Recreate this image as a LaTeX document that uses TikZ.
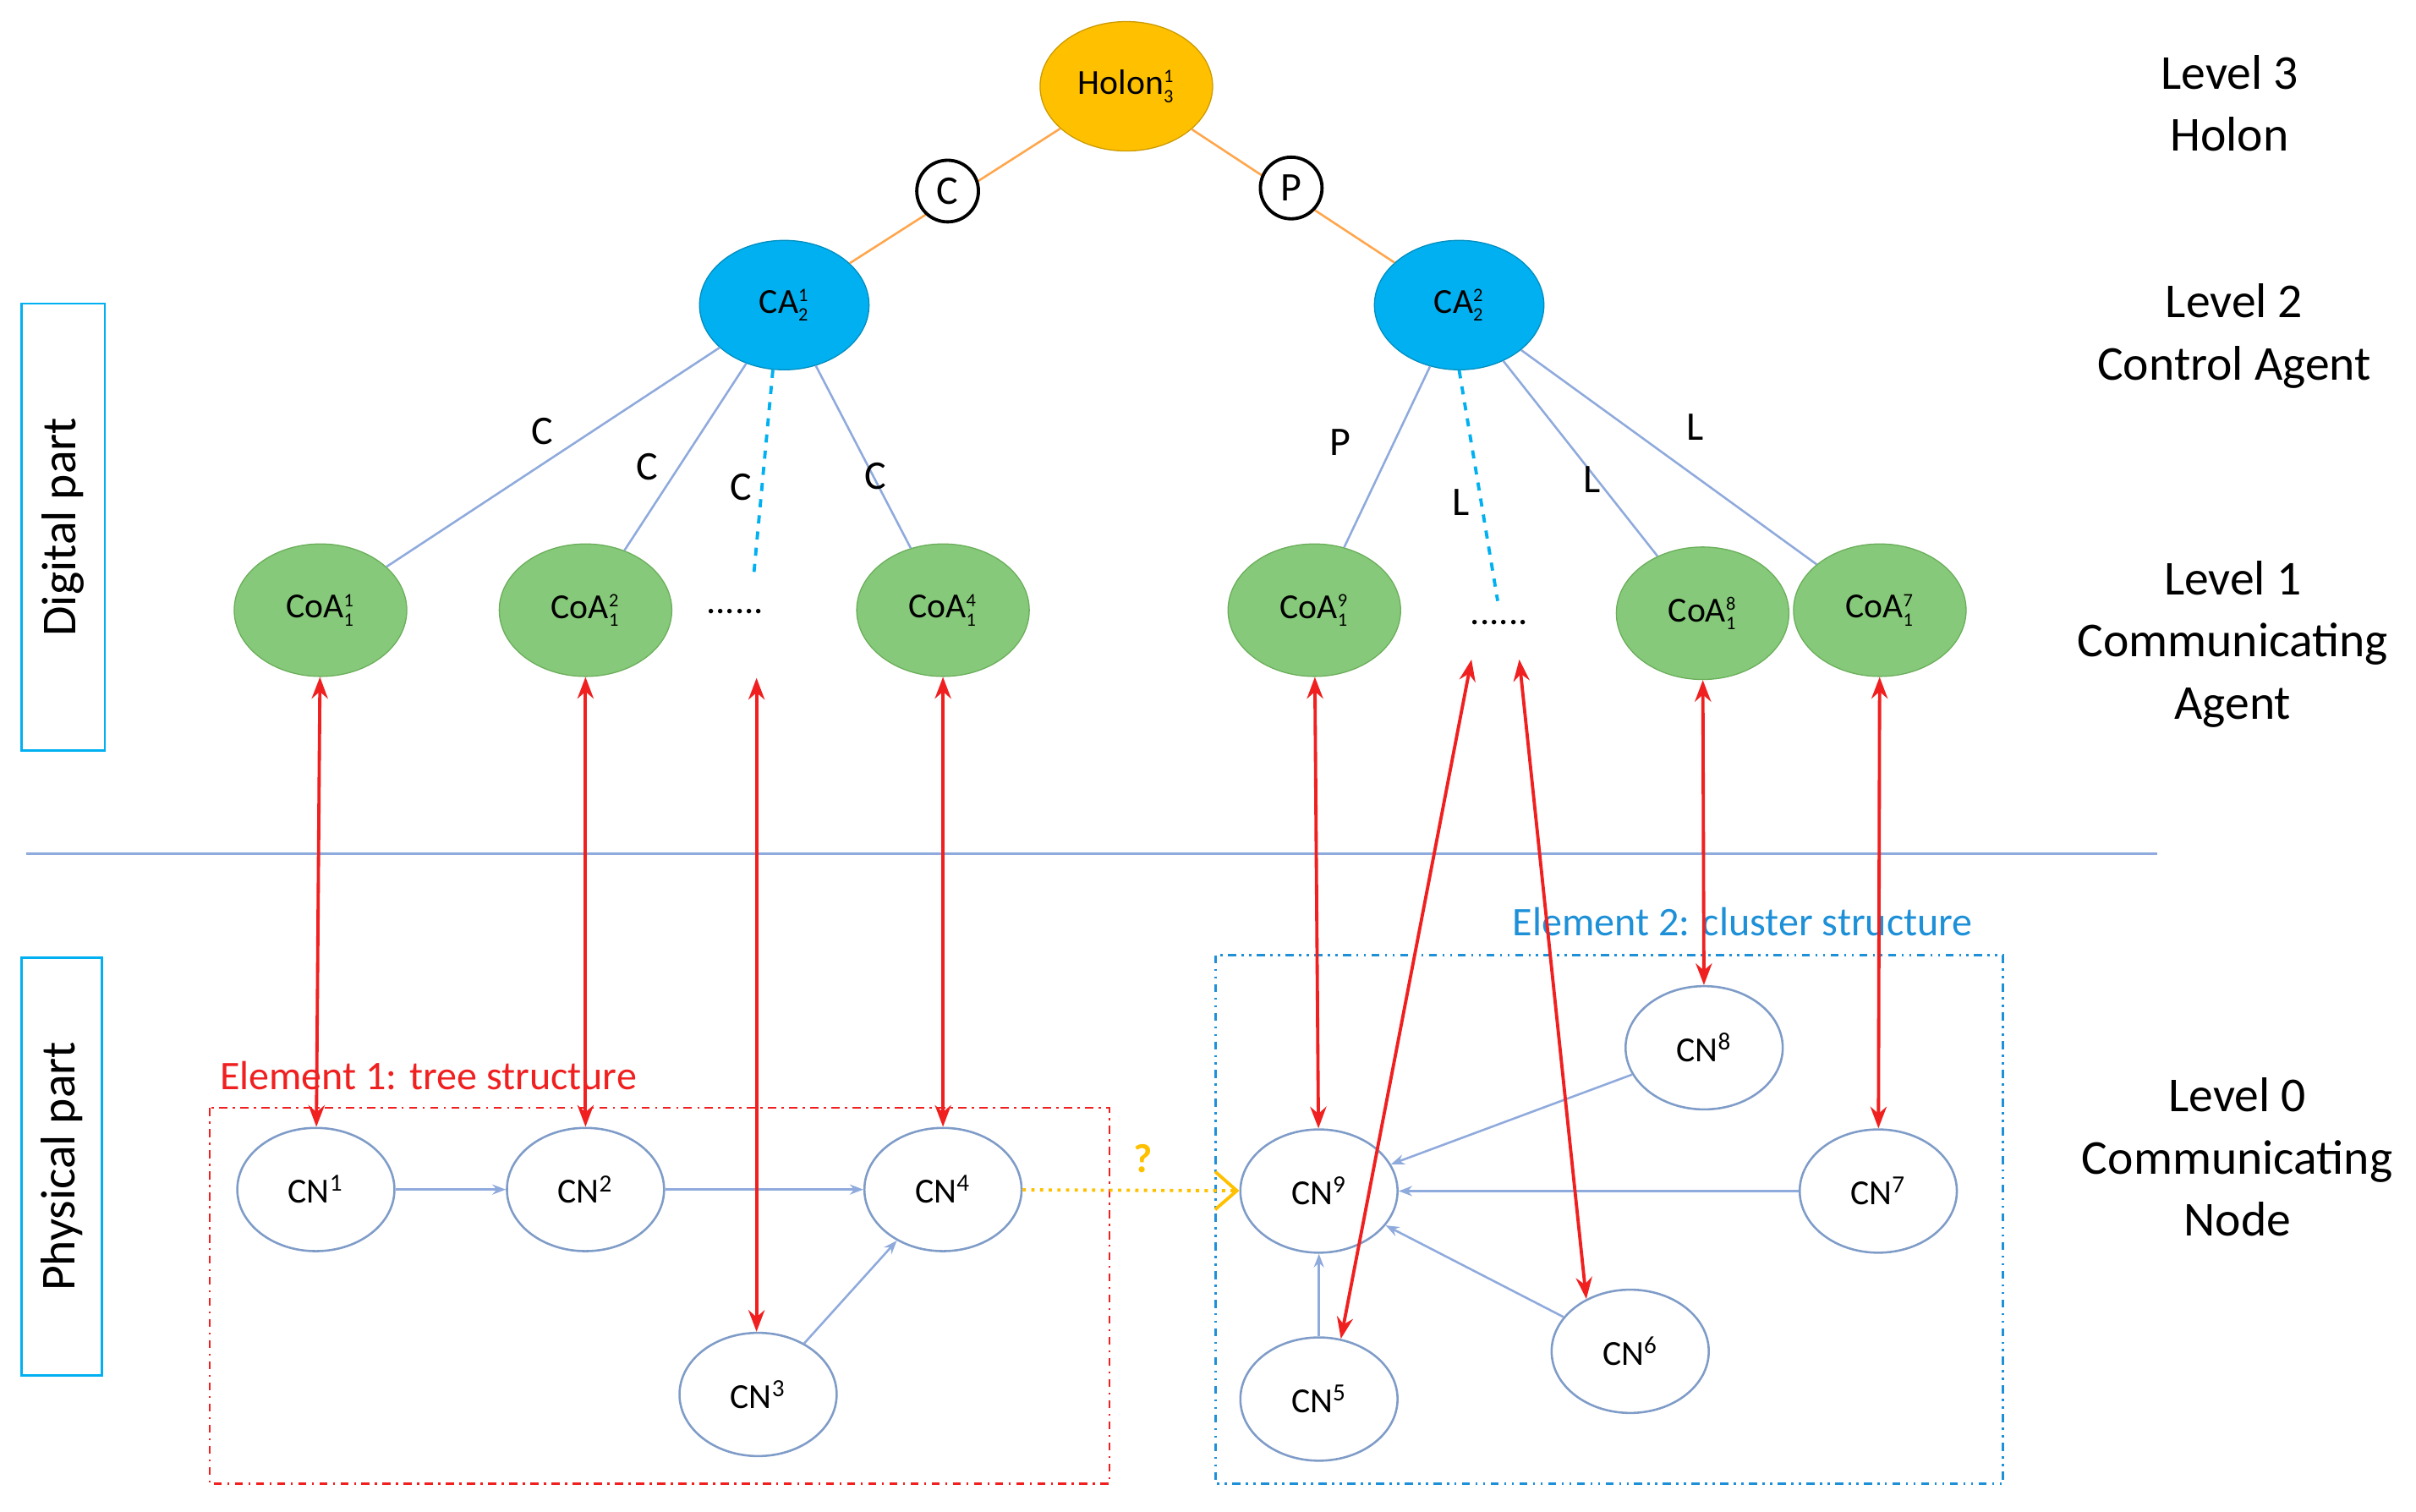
\documentclass[tikz,border=0pt]{standalone}
\usepackage{fontspec}
\setmainfont{Carlito}
\usetikzlibrary{arrows.meta,shapes.geometric}
\newcommand{\ssb}[2]{\ensuremath{^{\mbox{\scriptsize #2}}_{\mbox{\scriptsize #1}}}}
\definecolor{hol}{HTML}{FFC000}
\definecolor{cab}{HTML}{00B0F0}
\definecolor{coa}{HTML}{86C97A}
\definecolor{coab}{HTML}{6AAE5A}
\definecolor{lb}{HTML}{8FAADC}
\definecolor{cnb}{HTML}{7F9CC8}
\definecolor{rd}{HTML}{F02020}
\definecolor{bb}{HTML}{1E90D8}
\begin{document}
\begin{tikzpicture}[x=0.02cm,y=-0.02cm,
 holon/.style={ellipse,draw=hol!80!black,fill=hol,minimum width=112*0.02cm,minimum height=84*0.02cm,inner sep=0,font=\fontsize{13}{15}\selectfont},
 ca/.style={ellipse,draw=cab!80!black,fill=cab,minimum width=110*0.02cm,minimum height=84*0.02cm,inner sep=0,font=\fontsize{13}{15}\selectfont},
 coa/.style={ellipse,draw=coab,fill=coa,minimum width=112*0.02cm,minimum height=86*0.02cm,inner sep=0,font=\fontsize{13}{15}\selectfont},
 cn/.style={ellipse,draw=cnb,thick,fill=white,minimum width=102*0.02cm,minimum height=80*0.02cm,inner sep=0,font=\fontsize{13}{15}\selectfont},
 lvl/.style={font=\fontsize{18}{21}\selectfont,align=center},
 lab/.style={font=\fontsize{15}{18}\selectfont},
 circ/.style={circle,draw=black,very thick,fill=white,minimum size=40*0.02cm,inner sep=0,font=\fontsize{15}{18}\selectfont},
 bl/.style={draw=lb,thick},
 bla/.style={draw=lb,thick,-{Stealth[length=5pt]}},
 red/.style={draw=rd,very thick,{Stealth[length=8pt]}-{Stealth[length=8pt]}},
 dsh/.style={draw=cab,very thick,dashed}]
\useasboundingbox (0,0) rectangle (1568,981);
% nodes
\node[holon] (h) at (731,56) {Holon\ssb{3}{1}};
\node[ca] (ca1) at (509,198) {CA\ssb{2}{1}};
\node[ca] (ca2) at (947,198) {CA\ssb{2}{2}};
\draw[draw=orange!70,thick] (h) -- (ca1);
\draw[draw=orange!70,thick] (h) -- (ca2);
\node[circ] (cc) at (615,124) {C};
\node[circ] (pp) at (838,122) {P};
\node[coa] (a1) at (208,396) {CoA\ssb{1}{1}};
\node[coa] (a2) at (380,396) {CoA\ssb{1}{2}};
\node[coa] (a4) at (612,396) {CoA\ssb{1}{4}};
\node[coa] (a9) at (853,396) {CoA\ssb{1}{9}};
\node[coa] (a8) at (1105,398) {CoA\ssb{1}{8}};
\node[coa] (a7) at (1220,396) {CoA\ssb{1}{7}};
\node[font=\fontsize{14}{16}\selectfont] (d1) at (477,397) {......};
\node[font=\fontsize{14}{16}\selectfont] (d2) at (973,404) {......};
\coordinate (d1t) at (489,375);
\coordinate (d2t) at (972,390);
\draw[bl] (ca1) -- (a1);
\draw[bl] (ca1) -- (a2);
\draw[bl] (ca1) -- (a4);
\draw[dsh] (ca1.-100) -- (d1t);
\draw[bl] (ca2) -- (a9);
\draw[bl] (ca2) -- (a8);
\draw[bl] (ca2) -- (a7);
\draw[dsh] (ca2.-90) -- (d2t);
\node[lab] at (352,280) {C};
\node[lab] at (420,303) {C};
\node[lab] at (481,316) {C};
\node[lab] at (568,309) {C};
\node[lab] at (870,287) {P};
\node[lab] at (948,326) {L};
\node[lab] at (1033,311) {L};
\node[lab] at (1100,277) {L};
% side boxes
\node[draw=cab,thick,minimum width=54*0.02cm,minimum height=290*0.02cm] (dp) at (41,342) {};
\node[rotate=90,lvl] at (dp) {Digital part};
\node[draw=cab,thick,minimum width=52*0.02cm,minimum height=271*0.02cm] (pp2) at (40,757) {};
\node[rotate=90,lvl] at (pp2) {Physical part};
\coordinate (sl) at (17,554); \coordinate (sr) at (1400,554);
\draw[bl] (sl) -- (sr);
% levels
\node[lvl] at (1447,67) {Level 3\\[2pt]Holon};
\node[lvl] at (1450,218) {Level 2\\[2pt]Control Agent};
\node[lvl] at (1449,418) {Level 1\\[2pt]Communicating\\[2pt]Agent};
\node[lvl] at (1452,751) {Level 0\\[2pt]Communicating\\[2pt]Node};
% element boxes
\draw[rd,thick,dash dot] (136,719) rectangle (720,963);
\node[lab,text=rd] at (278,698) {Element 1: tree structure};
\draw[bb,thick,dash dot dot] (789,620) rectangle (1300,963);
\node[lab,text=bb] at (1131,598) {Element 2: cluster structure};
% CN
\node[cn] (n1) at (205,772) {CN\textsuperscript{1}};
\node[cn] (n2) at (380,772) {CN\textsuperscript{2}};
\node[cn] (n4) at (612,772) {CN\textsuperscript{4}};
\node[cn] (n3) at (492,905) {CN\textsuperscript{3}};
\node[cn] (n9) at (856,773) {CN\textsuperscript{9}};
\node[cn] (n8) at (1106,680) {CN\textsuperscript{8}};
\node[cn] (n7) at (1219,773) {CN\textsuperscript{7}};
\node[cn] (n6) at (1058,877) {CN\textsuperscript{6}};
\node[cn] (n5) at (856,908) {CN\textsuperscript{5}};
\draw[bla] (n1) -- (n2);
\draw[bla] (n2) -- (n4);
\draw[bla] (n3) -- (n4);
\draw[bla] (n8) -- (n9);
\draw[bla] (n7) -- (n9);
\draw[bla] (n6) -- (n9);
\draw[bla] (n5) -- (n9);
% red
\draw[red] (a1) -- (n1);
\draw[red] (a2) -- (n2);
\coordinate (d1b) at (491,440);
\draw[red] (d1b) -- (n3.north -| d1b);
\draw[red] (a4) -- (n4);
\draw[red] (a9) -- (n9);
\coordinate (d2a) at (955,428);
\coordinate (d2b) at (986,428);
\draw[red] (d2a) -- (n5.70);
\draw[red] (d2b) -- (n6.130);
\draw[red] (a8) -- (n8);
\draw[red] (a7) -- (n7);
% yellow
\draw[hol,very thick,dotted,-{Straight Barb[length=8pt,width=14pt]}] (n4) -- (n9);
\node[lab,text=hol] at (742,752) {\textbf{?}};
\end{tikzpicture}
\end{document}
